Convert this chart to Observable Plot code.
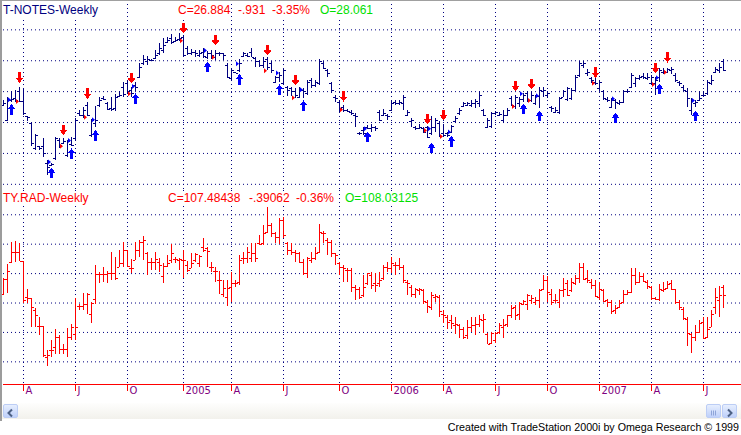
<!DOCTYPE html>
<html><head><meta charset="utf-8">
<script src="https://cdn.jsdelivr.net/npm/d3@7"></script>
<script src="https://cdn.jsdelivr.net/npm/@observablehq/plot@0.6"></script>
<style>
html,body{margin:0;padding:0;background:#fff;}
#wrap{position:relative;width:741px;height:435px;overflow:hidden;background:#fff;font-family:"Liberation Sans",Arial,sans-serif;}
.pane{position:absolute;left:0;}
.lbl{position:absolute;font-size:12px;line-height:14px;white-space:pre;background:#fff;}
#edgeL{position:absolute;left:0;top:0;width:2px;height:421px;background:#9c9c9c;}
#edgeT{position:absolute;left:0;top:0;width:741px;height:1px;background:#a0a0a0;}
#sb{position:absolute;left:2px;top:403px;width:739px;height:16px;background:linear-gradient(#fefefd,#f2f1ec);}
.btn{position:absolute;top:1px;width:15px;height:14px;border:1px solid #bccdf5;border-radius:2px;box-sizing:border-box;background:linear-gradient(#e6eefe,#bfd0fa);}
#footer{position:absolute;right:2px;top:421px;font-size:10.7px;line-height:13px;color:#000;white-space:pre;}
</style></head><body>
<div id="wrap">
  <div id="topPane" class="pane" style="top:0"></div>
  <div id="botPane" class="pane" style="top:190px"></div>
  <div id="edgeT"></div>
  <div id="edgeL"></div>
  <div id="labels"></div>
  <div id="sb">
    <div class="btn" style="left:1px"><svg width="13" height="12"><path d="M8 2.5 L4.5 6 L8 9.5" fill="none" stroke="#4d6185" stroke-width="2"/></svg></div>
    <div class="btn" style="left:704px"><svg width="13" height="12"><path d="M4.5 3.5v5M6.5 3.5v5M8.5 3.5v5" stroke="#8ea4d8" stroke-width="1"/></svg></div>
    <div class="btn" style="left:720px"><svg width="13" height="12"><path d="M5 2.5 L8.5 6 L5 9.5" fill="none" stroke="#4d6185" stroke-width="2"/></svg></div>
  </div>
  <div id="footer">Created with TradeStation 2000i by Omega Research © 1999</div>
</div>
<script>
// ---- weekly bars: T-NOTES (top pane) ----
const topOpen = [25.55,25.07,25.72,25.77,25.99,25.68,25.18,24.96,24.15,24.21,
24.21,23.67,23.61,23.83,24.42,24.32,23.94,24.29,24.48,25.28,
25.23,25.55,24.58,24.96,25.55,25.77,25.63,25.45,25.45,25.85,
26.15,26.25,26.04,26.20,26.47,26.90,26.96,27.02,27.06,27.22,
27.33,27.60,27.71,27.63,27.68,27.76,27.39,27.22,27.28,27.17,
27.28,27.12,27.25,27.12,27.25,27.22,26.85,26.42,26.61,26.69,
27.14,27.17,27.28,27.06,26.96,26.85,27.03,26.90,26.31,26.47,
26.25,26.15,26.09,25.99,25.82,26.04,25.93,26.36,26.20,26.25,
26.90,26.69,26.25,25.82,25.66,25.48,25.39,25.34,25.23,24.66,
24.75,24.85,24.80,24.85,25.34,25.23,25.23,25.39,25.66,25.61,
25.61,25.23,25.02,24.83,24.80,24.80,24.83,24.64,24.85,24.96,
24.64,24.64,24.69,25.02,25.28,25.52,25.55,25.55,25.61,25.61,
25.39,24.85,24.88,25.28,25.23,25.07,25.23,25.77,25.52,25.61,
25.74,25.93,25.72,25.61,25.85,25.99,25.88,25.48,25.34,25.31,
25.82,25.74,25.77,26.04,26.52,26.85,26.58,26.42,26.28,26.09,
25.99,25.74,25.50,25.72,25.61,25.66,25.99,26.15,26.25,26.42,
26.49,26.42,26.25,26.25,26.45,26.63,26.63,26.69,26.52,26.31,
26.15,25.99,25.39,25.61,25.72,25.88,25.93,26.25,26.63,26.69,26.96];
const topHigh = [25.72,25.80,25.99,26.04,26.15,26.09,25.21,24.99,24.62,24.23,
24.48,23.78,23.67,24.53,24.48,24.48,24.42,24.51,25.12,25.39,
25.48,25.66,25.10,25.52,25.82,25.85,25.66,25.82,25.91,25.99,
26.30,26.36,26.15,26.31,26.90,27.17,27.14,27.03,27.33,27.55,
27.71,27.76,27.85,27.74,27.87,27.82,27.46,27.35,27.33,27.33,
27.39,27.31,27.33,27.33,27.28,27.25,26.90,26.71,26.63,27.03,
27.28,27.22,27.39,27.10,27.01,27.12,27.10,26.99,26.49,26.63,
26.74,26.17,26.15,26.09,26.15,26.09,26.36,26.42,26.36,27.03,
26.96,26.71,26.31,25.88,25.72,25.55,25.41,25.39,25.28,24.69,
24.83,24.91,24.94,24.88,25.39,25.41,25.26,25.72,25.72,25.72,
25.88,25.39,25.12,24.88,24.94,24.85,24.88,25.18,25.12,25.02,
24.91,24.69,24.91,25.20,25.45,25.66,25.66,25.72,25.74,25.99,
25.41,25.12,25.34,25.37,25.31,25.39,25.45,25.85,25.88,25.82,
25.93,25.99,25.99,25.88,26.15,26.15,25.99,25.52,25.48,25.82,
26.04,26.15,26.09,26.52,26.96,26.99,26.71,26.47,26.42,26.36,
26.04,25.80,25.77,25.74,25.72,26.04,26.06,26.58,26.47,26.52,
26.58,26.58,26.52,26.47,26.74,26.74,26.74,26.79,26.58,26.33,
26.20,26.09,25.77,25.72,25.99,25.99,26.36,26.52,26.79,26.90,27.03];
const topLow = [25.52,25.02,25.66,25.66,25.66,25.23,25.02,24.23,24.08,24.08,
23.86,23.29,23.59,23.78,24.15,24.29,23.86,24.23,24.40,25.18,
25.14,25.18,24.53,24.83,25.50,25.72,25.39,25.37,25.37,25.80,
25.82,25.91,25.82,26.01,26.42,26.85,26.85,26.99,27.03,27.17,
27.22,27.57,27.52,27.60,27.63,27.10,27.17,27.17,27.10,27.12,
27.06,27.03,27.03,27.01,27.14,27.01,26.42,26.36,26.58,26.63,
27.12,27.10,27.10,26.79,26.79,26.74,26.69,26.60,26.25,26.31,
26.20,25.85,25.85,25.77,25.77,25.77,25.88,26.09,26.15,26.20,
26.71,26.47,25.95,25.66,25.34,25.34,25.31,25.23,24.85,24.58,
24.58,24.77,24.69,24.72,25.02,25.18,25.07,25.37,25.55,25.55,
25.39,25.18,24.83,24.75,24.77,24.64,24.48,24.58,24.69,24.51,
24.53,24.53,24.64,24.96,25.23,25.48,25.52,25.48,25.45,25.50,
25.18,24.80,24.80,25.23,25.18,24.98,25.18,25.52,25.41,25.50,
25.66,25.66,25.66,25.55,25.45,25.82,25.77,25.34,25.28,25.26,
25.80,25.69,25.72,25.99,26.47,26.74,26.49,26.25,26.20,26.02,
25.72,25.66,25.45,25.41,25.55,25.61,25.95,26.09,26.15,26.36,
26.38,26.36,26.20,25.88,26.31,26.56,26.58,26.56,26.31,26.17,
25.99,25.50,25.23,25.50,25.69,25.82,25.88,26.20,26.58,26.58,26.66];
const topClose = [25.61,25.72,25.74,25.72,25.68,25.28,25.16,24.32,24.58,24.15,
23.99,23.56,23.65,24.48,24.26,24.37,24.40,24.26,25.07,25.23,
25.39,25.23,25.07,25.07,25.72,25.74,25.41,25.41,25.82,25.88,
25.91,25.99,25.93,26.15,26.79,27.03,27.03,27.01,27.17,27.39,
27.49,27.66,27.60,27.66,27.71,27.17,27.22,27.28,27.22,27.25,
27.14,27.22,27.17,27.25,27.22,27.17,26.47,26.69,26.60,26.90,
27.22,27.14,27.12,26.96,26.85,26.99,26.79,26.69,26.45,26.52,
26.69,26.04,25.99,25.88,26.04,25.99,26.31,26.20,26.31,26.96,
26.74,26.60,26.04,25.77,25.45,25.39,25.37,25.28,25.18,24.64,
24.66,24.80,24.85,24.80,25.07,25.28,25.18,25.63,25.63,25.66,
25.80,25.34,25.07,24.80,24.85,24.69,24.51,24.85,25.07,24.55,
24.58,24.58,24.88,25.12,25.39,25.61,25.61,25.63,25.69,25.88,
25.23,25.07,25.28,25.34,25.25,25.23,25.39,25.55,25.82,25.74,
25.88,25.72,25.88,25.85,26.04,26.04,25.93,25.45,25.39,25.77,
25.99,26.09,26.04,26.47,26.90,26.90,26.63,26.36,26.25,26.31,
25.77,25.72,25.72,25.66,25.66,25.99,26.02,26.52,26.42,26.45,
26.45,26.47,26.47,26.36,26.69,26.66,26.71,26.71,26.36,26.25,
26.04,25.77,25.72,25.66,25.77,25.88,26.31,26.36,26.71,26.79,26.69];

// ---- weekly bars: TY.RAD (bottom pane) ----
const botOpen = [107.61,108.61,109.77,110.41,110.41,109.82,107.39,107.32,106.48,105.39,
105.39,103.30,103.75,103.98,104.66,103.86,103.86,104.66,104.89,106.75,
106.75,106.93,106.25,107.27,108.93,108.93,108.93,109.02,109.02,109.43,
109.66,110.57,109.32,109.89,110.57,111.14,110.34,109.77,109.77,109.77,
108.80,109.48,109.89,109.93,109.89,109.89,109.55,109.32,109.89,109.66,
110.80,110.68,109.43,109.16,108.52,107.61,107.39,108.07,108.34,108.41,
110.00,110.00,110.00,110.34,111.02,111.02,111.82,112.27,111.70,111.48,
112.61,111.02,110.57,110.45,110.34,109.77,108.98,109.89,110.00,110.45,
111.70,111.25,111.14,110.34,109.66,109.43,109.20,109.20,108.07,107.95,
107.50,108.30,108.86,108.30,108.30,108.64,109.43,109.32,109.55,109.55,
109.43,108.41,108.07,107.61,107.84,107.84,107.05,106.70,107.39,107.39,
106.25,106.02,105.80,105.45,105.45,105.23,104.77,105.34,105.45,105.57,
105.80,104.89,104.25,104.43,105.00,105.34,105.57,106.14,106.70,106.25,
106.93,106.93,107.16,107.05,107.16,107.95,108.52,107.61,107.16,107.05,
107.84,108.30,107.84,108.30,108.64,109.43,108.64,108.41,108.18,107.39,
107.84,107.16,107.05,106.48,106.70,107.05,107.57,107.73,108.86,108.41,
108.80,108.41,108.07,107.34,107.27,107.84,108.02,108.30,107.89,107.05,
106.59,105.91,104.89,104.66,105.00,105.68,104.66,105.34,106.70,107.16,108.03];
const botHigh = [108.68,109.59,111.09,111.16,111.02,109.84,107.89,107.34,106.66,106.02,
105.39,103.75,104.48,105.23,104.77,104.20,105.27,105.52,107.34,106.93,
107.66,107.66,107.05,109.55,109.09,109.43,109.16,110.45,110.11,110.57,
111.14,110.57,109.93,111.14,111.25,111.52,110.45,110.00,110.45,110.00,
109.66,110.23,110.98,110.11,110.00,110.57,109.84,110.34,110.39,110.23,
111.36,110.75,109.77,109.43,109.16,108.52,108.52,109.09,108.52,110.23,
110.45,110.80,111.07,111.02,111.59,112.27,113.52,112.39,111.82,112.73,
112.80,111.14,111.02,110.57,110.45,109.93,110.11,110.45,110.80,112.34,
111.89,111.36,111.25,110.39,109.77,109.55,109.32,109.32,108.18,108.07,
108.86,109.02,109.09,108.98,109.09,109.55,109.77,110.07,109.77,110.00,
109.55,108.52,108.18,108.02,108.02,107.95,107.16,107.73,107.61,107.50,
106.48,106.14,106.14,106.02,105.57,105.34,105.80,106.02,106.02,106.14,
106.20,104.93,104.98,105.00,105.61,105.91,106.18,106.86,106.82,107.05,
107.20,107.55,107.50,107.39,107.95,108.86,108.80,107.89,107.55,107.89,
108.70,108.52,108.64,108.86,109.66,109.66,109.20,108.59,108.52,108.41,
107.89,107.27,107.20,106.82,107.16,107.84,107.84,109.32,109.32,109.09,
109.02,108.52,108.11,107.39,108.25,108.41,108.48,108.52,107.95,107.20,
106.70,106.02,104.93,105.45,105.80,106.02,106.02,106.52,108.02,108.11,108.18];
const botLow = [107.50,107.66,109.66,109.77,109.82,106.98,106.98,105.34,105.34,104.77,
103.30,102.68,103.30,103.52,103.52,103.48,103.30,104.43,104.43,106.48,
106.48,106.25,105.61,106.93,108.30,108.41,108.30,108.52,108.52,109.43,
109.43,109.39,108.98,109.89,110.11,109.89,108.86,109.20,109.20,109.09,
108.30,109.43,109.66,109.66,109.20,108.64,109.09,109.32,109.77,109.43,
110.45,109.43,109.09,108.41,107.61,107.39,106.75,107.05,108.07,108.18,
109.61,109.66,109.77,109.77,110.91,110.91,111.70,111.48,111.02,110.98,
111.36,110.23,110.23,109.77,109.66,108.86,108.64,109.66,109.89,110.34,
111.02,110.23,110.07,109.55,108.86,108.41,108.41,107.73,107.16,107.27,
107.39,108.18,107.95,107.73,108.07,108.52,109.09,108.98,108.86,109.20,
108.30,107.50,107.39,107.34,107.50,106.93,106.30,106.48,107.05,106.02,
105.61,105.23,105.23,104.84,104.61,104.55,104.55,105.00,104.77,105.34,
104.93,104.16,104.20,104.25,104.89,104.61,105.34,105.98,105.80,105.84,
106.82,106.48,106.89,106.82,106.66,107.84,107.05,106.82,106.98,106.66,
107.39,107.43,107.73,108.18,108.30,108.52,108.30,107.95,107.39,107.16,
107.05,106.70,106.20,106.25,106.66,106.98,107.50,107.66,108.18,108.30,
108.41,107.89,107.20,107.16,107.11,107.73,107.89,107.84,106.93,106.48,
105.84,104.02,103.57,104.39,104.93,104.55,104.61,105.34,106.25,106.02,106.66];
const botClose = [108.61,109.14,110.41,110.41,109.82,107.16,107.32,106.70,106.14,105.39,
103.41,103.41,103.75,104.66,103.86,103.86,104.66,105.34,105.34,106.75,
106.93,107.61,106.98,108.93,108.93,108.93,109.02,109.02,108.70,109.66,
110.57,109.48,109.32,110.57,111.14,111.25,109.77,109.77,109.93,109.55,
109.48,109.66,110.34,109.93,109.93,109.89,109.20,109.70,110.30,110.16,
110.57,110.52,109.43,109.16,108.52,108.02,108.02,108.34,108.34,109.89,
110.00,110.45,110.34,110.00,110.98,111.70,112.27,111.70,111.48,112.61,
111.59,110.57,110.45,110.34,109.77,108.98,110.00,110.00,110.39,111.82,
111.75,111.14,110.34,110.23,109.43,109.32,109.20,108.07,107.95,107.39,
108.07,108.98,108.18,108.18,108.52,109.43,109.32,109.66,109.55,109.43,
108.52,108.30,107.61,107.95,107.89,107.11,106.75,107.50,107.43,106.41,
106.14,105.68,105.61,105.57,105.23,104.66,105.34,105.50,105.52,105.91,
105.91,104.20,104.93,104.93,105.50,105.45,106.14,106.66,106.14,106.98,
107.09,107.50,107.34,107.20,107.84,108.52,107.73,107.05,107.16,107.84,
107.89,107.50,108.41,108.64,109.43,108.57,108.52,108.18,107.43,107.89,
107.11,107.05,106.43,106.66,106.98,107.57,107.73,108.86,108.41,108.80,
108.48,108.11,107.34,107.27,107.95,107.95,108.25,107.95,107.05,106.70,
105.98,104.93,104.66,105.00,105.61,104.61,105.23,106.25,107.39,107.50,107.48];

// ---- strategy signals (top pane): bar index, entry price, arrow tip price ----
const sellBars  = [4,15,21,32,45,53,66,73,85,106,110,128,132,148,163,166];
const sellEntry = [25.68,24.23,25.17,25.93,27.65,27.11,26.68,25.80,25.41,24.74,24.55,25.52,25.71,26.27,26.23,26.63];
const sellTip   = [26.27,24.58,25.75,26.25,27.87,27.48,27.16,26.19,25.66,24.93,25.06,26.00,26.06,26.43,26.58,26.92];
const buyBars   = [2,12,17,23,33,51,59,69,75,91,107,112,130,134,153,164,173];
const buyEntry  = [25.74,23.72,24.42,25.09,26.17,27.33,26.90,26.60,26.06,24.80,24.80,24.69,25.93,25.87,25.77,26.45,25.71];
const buyTip    = [25.61,23.55,24.18,24.77,25.96,26.98,26.58,26.25,25.73,24.72,24.36,24.58,25.62,25.39,25.33,26.27,25.39];

// ---- time axis ----
const firstWeek = "2004-02-27", lastWeek = "2007-08-10";
const tickDates  = ["2004-04-02","2004-07-02","2004-10-01","2005-01-07","2005-04-01","2005-07-01","2005-10-07",
                    "2006-01-06","2006-04-07","2006-07-07","2006-10-06","2007-01-05","2007-04-06","2007-07-06"];
const tickLabels = ["A","J","O","2005","A","J","O","2006","A","J","O","2007","A","J"];

// ---- price grids / visible ranges ----
const topGrid = [23,24,25,26,27,28];
const topRange = [22.80, 28.95];
const botGrid = [103,105,107,109,111,113];
const botRange = [101.46, 114.65];

// ---- header texts ----
const topHeader = {name:"T-NOTES-Weekly", close:"C=26.884", chg:"-.931", pct:"-3.35%", open:"O=28.061"};
const botHeader = {name:"TY.RAD-Weekly", close:"C=107.48438", chg:"-.39062", pct:"-0.36%", open:"O=108.03125"};

// ================= build =================
const weeks = d3.utcFriday.range(new Date(firstWeek), d3.utcDay.offset(new Date(lastWeek), 1));
const topRows = weeks.map((date,i)=>({date, open:topOpen[i], high:topHigh[i], low:topLow[i], close:topClose[i]}));
const botRows = weeks.map((date,i)=>({date, open:botOpen[i], high:botHigh[i], low:botLow[i], close:botClose[i]}));
const ticks = tickDates.map((d,i)=>({date:new Date(d), label:tickLabels[i]}));
const sells = sellBars.map((b,k)=>({date:weeks[b], entry:sellEntry[k], tip:sellTip[k]}));
const buys  = buyBars.map((b,k)=>({date:weeks[b], entry:buyEntry[k], tip:buyTip[k]}));

// pixel-shaped glyphs (styling only)
const openTick  = {draw(c){c.moveTo(-2.5,0); c.lineTo(-0.5,0);}};
const closeTick = {draw(c){c.moveTo(0.5,0); c.lineTo(2.5,0);}};
const downArrow = {draw(c){c.moveTo(-1.5,-11);c.lineTo(1.5,-11);c.lineTo(1.5,-5.5);c.lineTo(4,-5.5);c.lineTo(0,-0.5);c.lineTo(-4,-5.5);c.lineTo(-1.5,-5.5);c.closePath();}};
const upArrow   = {draw(c){c.moveTo(-1.5,11);c.lineTo(1.5,11);c.lineTo(1.5,5.5);c.lineTo(4,5.5);c.lineTo(0,0.5);c.lineTo(-4,5.5);c.lineTo(-1.5,5.5);c.closePath();}};
const entryMark = {draw(c){c.moveTo(-3.5,-2.5);c.lineTo(-0.5,0);c.lineTo(-3.5,2.5);c.closePath();}};
const vTick     = {draw(c){c.moveTo(0,0); c.lineTo(0,6);}};

const dotted = {stroke:"#000080", strokeOpacity:1, strokeDasharray:"1,3"};
const xScale = {type:"utc", domain:[weeks[0], weeks[weeks.length-1]], range:[3,723], axis:null};

function barMarks(rows, color){
  return [
    Plot.ruleX(rows, {x:"date", y1:"low", y2:"high", stroke:color, strokeWidth:1, shapeRendering:"crispEdges"}),
    Plot.dot(rows, {x:"date", y:"open", symbol:openTick, fill:"none", stroke:color, strokeWidth:1, shapeRendering:"crispEdges"}),
    Plot.dot(rows, {x:"date", y:"close", symbol:closeTick, fill:"none", stroke:color, strokeWidth:1, shapeRendering:"crispEdges"})
  ];
}

const topPlot = Plot.plot({
  width:741, height:190, marginTop:0, marginBottom:0, marginLeft:3, marginRight:0,
  style:{background:"transparent", overflow:"visible"},
  x: xScale,
  y: {domain:topRange, axis:null},
  marks:[
    Plot.ruleY(topGrid, dotted),
    Plot.ruleX(ticks, {x:"date", ...dotted}),
    ...barMarks(topRows, "#000080"),
    Plot.dot(sells, {x:"date", y:"tip", symbol:downArrow, fill:"#ff0000", stroke:"none", shapeRendering:"crispEdges"}),
    Plot.dot(sells, {x:"date", y:"entry", symbol:entryMark, fill:"#ff0000", stroke:"none"}),
    Plot.dot(buys, {x:"date", y:"tip", symbol:upArrow, fill:"#0000ff", stroke:"none", shapeRendering:"crispEdges"}),
    Plot.dot(buys, {x:"date", y:"entry", symbol:entryMark, fill:"#0000ff", stroke:"none"})
  ]
});
document.getElementById("topPane").append(topPlot);

const botPlot = Plot.plot({
  width:741, height:212, marginTop:0, marginBottom:18, marginLeft:3, marginRight:0,
  style:{background:"transparent", overflow:"visible"},
  x: xScale,
  y: {domain:botRange, axis:null},
  marks:[
    Plot.ruleY(botGrid, dotted),
    Plot.ruleX(ticks, {x:"date", ...dotted}),
    ...barMarks(botRows, "#ff0000"),
    Plot.ruleY([botRange[0]], {stroke:"#ff0000", strokeWidth:1}),
    Plot.dot(ticks, {x:"date", frameAnchor:"bottom", symbol:vTick, fill:"none", stroke:"#ff0000", shapeRendering:"crispEdges"}),
    Plot.text(ticks, {x:"date", text:"label", frameAnchor:"bottom", textAnchor:"start", dx:2, dy:9,
      fill:"#800080", fontSize:10, fontFamily:"DejaVu Sans"})
  ]
});
document.getElementById("botPane").append(botPlot);

// header labels (overlaid on the panes)
const labels = document.getElementById("labels");
function addLabel(text, x, y, color){
  const s = document.createElement("div");
  s.className = "lbl"; s.textContent = text;
  s.style.left = x + "px"; s.style.top = y + "px"; s.style.color = color;
  labels.append(s);
}
addLabel(topHeader.name, 3, 3, "#000080");
addLabel(topHeader.close, 178, 3, "#ff0000");
addLabel(topHeader.chg, 238, 3, "#ff0000");
addLabel(topHeader.pct, 272, 3, "#ff0000");
addLabel(topHeader.open, 320, 3, "#00e000");
addLabel(botHeader.name, 3, 191, "#ff0000");
addLabel(botHeader.close, 168, 191, "#ff0000");
addLabel(botHeader.chg, 249, 191, "#ff0000");
addLabel(botHeader.pct, 296, 191, "#ff0000");
addLabel(botHeader.open, 345, 191, "#00e000");
</script>
</body></html>
